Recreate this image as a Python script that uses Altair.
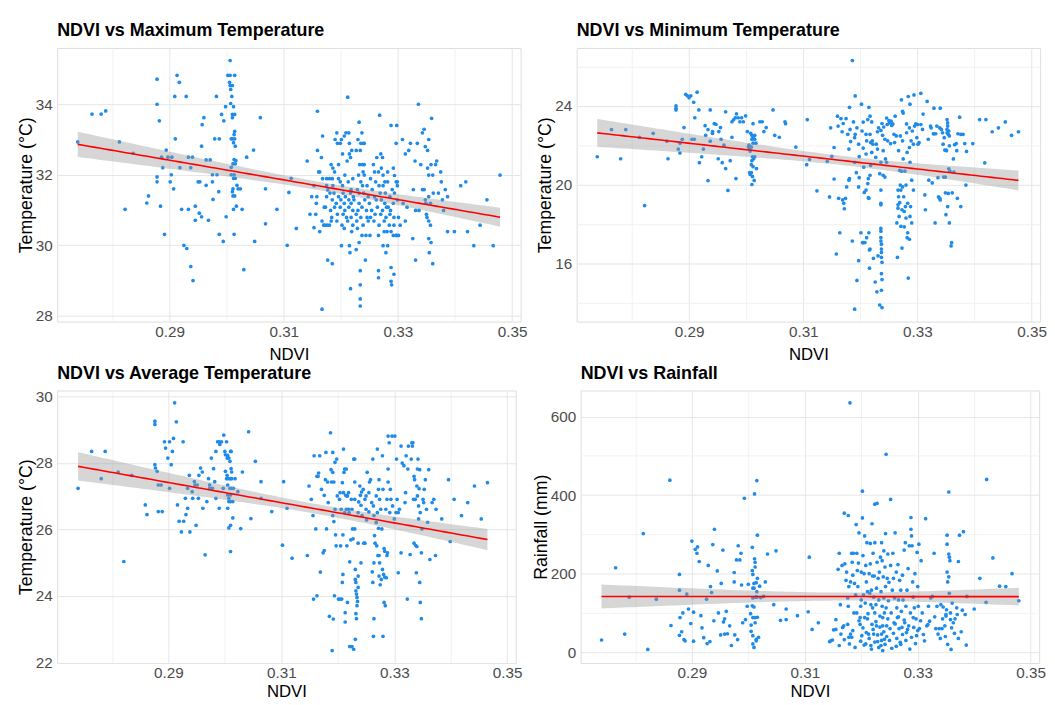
import numpy as np
import pandas as pd
import altair as alt

# ---------------- data ----------------
tmax_pts = [
(0.2739,32.93),(0.2764,33.72),(0.2780,33.72),(0.2788,33.81),(0.2812,32.93),(0.2836,32.61),(0.2878,34.71),(0.2878,34.0),
(0.2882,33.53),(0.2910,33.02),(0.2894,32.7),(0.2886,32.5),(0.2897,32.5),(0.2904,32.5),(0.2888,32.2),(0.2918,32.2),
(0.2878,31.94),(0.2878,31.8),(0.2903,32.0),(0.2901,31.8),(0.2907,31.6),(0.2863,31.4),(0.2860,31.2),(0.2909,34.22),
(0.2913,34.82),(0.2917,34.62),(0.2929,34.22),(0.2933,32.5),(0.2940,32.5),(0.2937,32.2),(0.2956,32.81),(0.2960,33.62),
(0.2957,33.42),(0.2950,31.8),(0.2953,31.8),(0.2964,32.42),(0.2971,32.42),(0.2964,31.7),(0.2975,32.0),(0.2983,32.0),
(0.2975,31.8),(0.2979,33.02),(0.2987,33.02),(0.2982,34.22),(0.2986,31.52),(0.2976,31.3),(0.2991,33.71),(0.2995,33.53),
(0.2998,33.93),(0.3006,35.24),(0.3002,34.82),(0.3006,34.82),(0.3014,34.82),(0.3005,34.62),(0.3006,34.53),(0.3010,34.53),
(0.3007,34.42),(0.3009,34.22),(0.3007,34.02),(0.3012,33.93),(0.3010,33.71),(0.3014,33.71),(0.3010,33.62),(0.3014,33.23),
(0.3013,33.14),(0.3010,33.02),(0.3014,33.02),(0.3008,33.02),(0.3012,32.91),(0.3015,32.81),(0.3013,32.43),(0.3016,32.4),
(0.3011,32.31),(0.3015,32.31),(0.3008,32.21),(0.3008,32.0),(0.3013,32.0),(0.3015,31.9),(0.3012,31.9),(0.3018,31.7),
(0.3020,31.6),(0.3011,31.6),(0.3010,31.52),(0.3014,31.4),(0.3011,31.4),(0.3024,31.6),(0.3035,32.5),(0.3047,32.7),
(0.3059,33.62),(0.3068,31.6),(0.3109,31.5),(0.3113,31.9),
(0.2822,31.02),(0.2884,31.11),(0.2891,30.31),(0.2921,31.02),(0.2933,31.02),(0.2945,31.11),(0.2952,30.91),(0.2956,30.81),
(0.2945,30.71),(0.2968,30.71),(0.2925,30.0),(0.2930,29.91),(0.2937,29.4),(0.2941,29.0),(0.2987,30.31),(0.2994,30.11),
(0.2999,30.81),(0.3012,31.02),(0.3017,31.11),(0.3027,31.02),(0.3013,30.31),(0.3030,29.31),(0.3049,30.11),(0.3068,30.61),
(0.3088,31.02),(0.3106,30.0),
(0.3122,30.48),(0.3141,32.39),(0.3146,30.88),(0.3153,31.69),(0.3156,30.88),(0.3159,33.8),(0.3159,32.69),(0.3161,32.08),
(0.3163,32.08),(0.3166,32.49),(0.3168,33.1),(0.3168,31.89),(0.3149,31.38),(0.3158,31.38),(0.3157,31.19),(0.3153,30.5),
(0.3163,30.39),(0.3167,30.69),(0.3171,31.08),(0.3172,30.57),(0.3176,30.57),(0.3180,30.57),(0.3175,31.38),(0.3177,29.58),
(0.3185,29.48),(0.3167,28.19),(0.3177,31.57),(0.3180,31.89),(0.3181,31.48),(0.3183,32.29),(0.3186,32.19),(0.3189,32.08),
(0.3190,33.0),(0.3193,33.19),(0.3194,32.89),(0.3196,32.29),(0.3199,32.89),(0.3201,33.0),(0.3203,32.59),(0.3206,33.1),
(0.3209,33.19),(0.3212,34.2),(0.3214,33.19),(0.3215,32.89),(0.3215,32.59),(0.3217,32.49),(0.3211,32.39),(0.3219,32.69),
(0.3227,32.69),(0.3232,33.49),(0.3230,33.0),(0.3235,32.89),(0.3237,33.19),(0.3239,32.89),(0.3241,32.89),(0.3234,32.69),
(0.3233,32.29),(0.3238,32.29),(0.3241,32.29),(0.3239,32.08),(0.3241,31.99),(0.3235,31.8),(0.3238,31.69),(0.3229,31.58),
(0.3257,32.29),(0.3259,32.08),(0.3263,32.49),(0.3268,33.69),(0.3270,32.59),(0.3273,32.49),(0.3266,32.08),(0.3271,32.19),
(0.3274,31.99),(0.3277,31.8),(0.3274,31.69),(0.3282,32.08),(0.3282,31.8),(0.3288,33.4),(0.3298,33.4),(0.3292,32.19),
(0.3294,31.98),(0.3297,31.8),(0.3299,31.8),(0.3297,32.89),(0.3308,33.0),(0.3313,32.59),(0.3319,32.69),(0.3322,32.89),
(0.3334,32.89),(0.3336,34.0),(0.3343,33.19),(0.3346,33.29),(0.3354,33.0),(0.3359,33.6),(0.3348,32.8),(0.3352,32.69),
(0.3330,32.39),(0.3340,32.29),(0.3358,32.29),(0.3366,32.29),(0.3368,32.39),(0.3352,32.19),(0.3354,31.99),(0.3361,31.99),
(0.3375,32.08),(0.3376,31.8),(0.3327,31.58),(0.3343,31.58),(0.3346,31.58),(0.3362,31.48),(0.3371,31.48),(0.3383,31.58),
(0.3387,31.38),(0.3378,31.29),(0.3348,31.29),(0.3354,31.38),(0.3349,31.19),(0.3357,31.19),(0.3331,30.99),(0.3337,30.99),
(0.3316,31.08),(0.3309,31.19),(0.3313,30.69),(0.3304,30.57),(0.3301,30.79),(0.3350,30.88),(0.3351,30.79),(0.3354,30.69),
(0.3357,30.57),(0.3380,30.99),(0.3387,30.39),(0.3399,30.39),(0.3422,30.39),(0.3444,30.57),(0.3456,31.29),(0.3479,31.99),
(0.3410,31.69),(0.3419,31.8),(0.3433,29.99),(0.3467,29.99),(0.3354,30.19),(0.3358,30.08),(0.3355,29.79),(0.3361,29.48),
(0.3331,29.58),(0.3326,30.19),(0.3293,29.18),(0.3288,29.37),(0.3288,28.98),(0.3289,28.88),(0.3266,29.28),(0.3266,29.08),
(0.3279,29.79),(0.3234,29.28),(0.3234,28.88),(0.3217,28.77),(0.3234,28.48),(0.3234,28.28),(0.3243,29.58),(0.3201,29.99),
(0.3215,29.99),(0.3216,29.79),(0.3227,29.88),(0.3232,30.08),(0.3274,29.99),(0.3282,29.99),(0.3288,30.39),(0.3297,30.28),
(0.3301,30.28),
(0.3175,31.89),(0.3185,31.89),(0.3196,31.89),(0.3207,31.99),(0.3221,31.89),(0.3231,31.99),(0.3252,31.89),(0.3261,31.8),
(0.3175,31.69),(0.3186,31.69),(0.3199,31.8),(0.3203,31.69),(0.3213,31.8),(0.3218,31.58),(0.3246,31.69),(0.3255,31.58),
(0.3267,31.69),(0.3290,31.58),(0.3299,31.69),
(0.3188,31.48),(0.3196,31.38),(0.3204,31.48),(0.3208,31.38),(0.3217,31.48),(0.3222,31.38),(0.3232,31.48),(0.3240,31.48),
(0.3248,31.38),(0.3259,31.38),(0.3269,31.48),(0.3278,31.48),(0.3286,31.38),(0.3294,31.48),
(0.3185,31.29),(0.3192,31.19),(0.3200,31.29),(0.3206,31.19),(0.3214,31.29),(0.3218,31.19),(0.3223,31.29),(0.3232,31.19),
(0.3242,31.29),(0.3250,31.19),(0.3262,31.29),(0.3271,31.29),(0.3277,31.19),(0.3283,31.08),(0.3292,31.19),(0.3299,31.29),
(0.3173,31.08),(0.3182,30.99),(0.3189,31.08),(0.3199,31.08),(0.3207,30.99),(0.3214,31.08),(0.3221,30.99),(0.3230,30.99),
(0.3237,31.08),(0.3245,30.99),(0.3254,30.99),(0.3264,31.08),(0.3273,30.99),(0.3280,31.08),(0.3287,30.99),
(0.3184,30.79),(0.3194,30.88),(0.3204,30.88),(0.3210,30.79),(0.3218,30.79),(0.3227,30.88),(0.3235,30.79),(0.3246,30.79),
(0.3252,30.79),(0.3260,30.88),(0.3270,30.88),(0.3279,30.79),(0.3286,30.88),(0.3293,30.79),
(0.3170,30.57),(0.3183,30.69),(0.3193,30.69),(0.3202,30.57),(0.3212,30.69),(0.3221,30.57),(0.3228,30.69),(0.3239,30.57),
(0.3248,30.69),(0.3258,30.69),(0.3267,30.57),(0.3276,30.69),(0.3285,30.57),(0.3293,30.57),
(0.3206,30.48),(0.3219,30.39),(0.3229,30.48),(0.3237,30.28),(0.3244,30.28),(0.3251,30.28),(0.3266,30.28),(0.3276,30.39),
(0.3281,30.39),(0.3292,30.28),(0.3298,30.28),
]

tmin_pts = [
(0.2739,21.41),(0.2764,22.79),(0.2780,21.31),(0.2789,22.79),(0.2813,22.4),(0.2822,18.93),(0.2837,22.6),(0.2861,22.2),
(0.2863,21.31),(0.2877,24.0),(0.2877,23.88),(0.2877,23.79),(0.2881,21.8),(0.2884,22.1),(0.2884,21.6),(0.2888,22.3),
(0.2891,22.89),(0.2894,24.58),(0.2897,24.51),(0.2900,24.41),(0.2903,24.51),(0.2908,24.18),(0.2914,24.69),(0.2905,22.3),
(0.2909,22.3),(0.2910,23.39),(0.2917,23.79),(0.2918,21.11),(0.2922,21.41),(0.2925,21.8),(0.2929,22.5),(0.2928,22.99),
(0.2933,22.79),(0.2933,20.2),(0.2937,23.79),(0.2937,22.2),(0.2941,22.69),(0.2941,22.6),(0.2944,23.09),(0.2947,23.06),
(0.2951,21.31),(0.2952,22.69),(0.2955,22.89),(0.2956,22.3),(0.2958,21.11),(0.2961,22.0),(0.2964,23.69),(0.2964,20.81),
(0.2968,19.7),(0.2972,21.21),(0.2975,23.19),(0.2975,22.4),(0.2978,23.29),(0.2981,23.39),(0.2982,20.3),(0.2983,23.59),
(0.2986,23.39),(0.2989,23.19),(0.2992,23.39),(0.2995,23.19),(0.2999,23.49),(0.3002,22.69),(0.3004,21.9),(0.3005,22.0),
(0.3006,21.8),(0.3007,21.7),(0.3008,22.6),(0.3010,22.5),(0.3012,22.4),(0.3015,22.5),(0.3010,22.3),(0.3015,22.3),
(0.3012,22.1),(0.3017,22.1),(0.3009,21.9),(0.3011,21.41),(0.3015,21.41),(0.3010,21.21),(0.3013,21.31),(0.3009,21.01),
(0.3012,20.91),(0.3018,20.81),(0.3006,20.61),(0.3007,20.51),(0.3009,20.61),(0.3011,20.41),(0.3014,20.21),(0.3010,20.0),
(0.3012,23.09),(0.3024,23.19),(0.3028,23.19),(0.3031,22.69),(0.3035,22.89),(0.3047,23.79),(0.3050,22.5),(0.3058,22.4),
(0.3068,23.19),(0.3069,23.09),(0.3087,21.9),(0.3106,21.01),
(0.3107,23.3),(0.3111,21.27),(0.3124,19.68),(0.3142,21.18),(0.3146,19.37),(0.3148,22.88),(0.3150,21.43),(0.3154,20.28),
(0.3154,21.88),(0.3158,16.47),(0.3160,23.47),(0.3161,22.97),(0.3162,19.3),(0.3164,17.55),(0.3166,23.35),(0.3168,22.68),
(0.3169,19.22),(0.3170,23.1),(0.3171,19.05),(0.3172,18.77),(0.3174,19.3),(0.3175,23.35),(0.3176,19.88),(0.3178,22.55),
(0.3180,21.8),(0.3180,20.22),(0.3181,23.92),(0.3181,20.3),(0.3182,22.8),(0.3183,22.18),(0.3186,26.3),(0.3186,17.13),
(0.3188,23.18),(0.3190,21.13),(0.3190,22.38),(0.3191,24.5),(0.3191,22.55),(0.3193,20.6),(0.3194,22.88),(0.3194,15.13),
(0.3190,13.67),(0.3197,19.88),(0.3197,22.05),(0.3197,16.13),(0.3198,21.42),(0.3198,20.35),(0.3201,17.55),(0.3202,24.08),
(0.3203,22.72),(0.3204,17.05),(0.3205,23.17),(0.3205,17.05),(0.3205,21.85),(0.3206,20.88),(0.3207,19.6),(0.3208,17.05),
(0.3210,22.55),(0.3210,19.72),(0.3210,21.55),(0.3211,17.3),(0.3211,22.22),(0.3213,20.05),(0.3213,23.3),(0.3214,20.3),
(0.3214,19.33),(0.3215,23.92),(0.3215,17.55),(0.3215,19.3),(0.3216,15.75),(0.3216,16.68),(0.3217,22.55),(0.3217,16.72),
(0.3217,20.47),(0.3217,23.47),(0.3218,20.97),(0.3218,22.13),(0.3220,23.18),(0.3220,21.63),(0.3221,22.22),(0.3222,22.05),
(0.3223,16.25),(0.3226,15.05),(0.3227,21.38),(0.3228,22.05),(0.3229,14.55),(0.3230,22.68),(0.3230,21.8),(0.3231,16.38),
(0.3232,22.88),(0.3234,20.55),(0.3234,13.88),(0.3236,22.75),(0.3236,21.13),(0.3236,19.05),(0.3236,18.97),(0.3236,17.77),
(0.3236,17.63),(0.3236,17.3),(0.3236,17.13),(0.3237,16.97),(0.3237,16.72),(0.3237,16.55),(0.3237,16.3),(0.3238,16.05),
(0.3237,15.47),(0.3238,15.17),(0.3237,14.63),(0.3238,13.75),(0.3236,19.72),(0.3238,23.1),(0.3239,22.5),(0.3240,21.72),
(0.3240,20.47),(0.3241,22.92),(0.3243,20.38),(0.3243,22.3),(0.3244,21.3),(0.3246,23.38),(0.3246,21.13),(0.3247,23.05),
(0.3248,22.22),(0.3250,23.25),(0.3251,23.13),(0.3253,22.08),(0.3254,23.22),(0.3255,23.0),(0.3257,23.08),(0.3259,22.55),
(0.3260,22.13),(0.3261,23.47),(0.3263,22.47),(0.3264,18.05),(0.3265,16.3),(0.3266,19.72),(0.3266,18.97),(0.3266,18.8),
(0.3267,19.38),(0.3267,21.72),(0.3268,18.38),(0.3269,19.08),(0.3269,20.72),(0.3270,19.97),(0.3270,22.47),(0.3271,19.72),
(0.3271,17.88),(0.3272,20.68),(0.3272,24.3),(0.3273,18.72),(0.3273,16.77),(0.3274,23.72),(0.3274,22.22),(0.3274,19.88),
(0.3275,23.63),(0.3275,21.3),(0.3276,19.38),(0.3277,18.63),(0.3277,17.85),(0.3278,20.68),(0.3279,18.88),(0.3280,19.97),
(0.3280,18.3),(0.3281,23.08),(0.3281,22.63),(0.3282,17.3),(0.3282,21.63),(0.3283,19.05),(0.3283,17.55),(0.3284,24.47),
(0.3284,15.25),(0.3286,21.88),(0.3286,17.22),(0.3286,22.88),(0.3287,21.13),(0.3287,24.08),(0.3287,18.38),(0.3288,18.88),
(0.3289,22.22),(0.3290,20.22),(0.3290,18.05),(0.3291,22.72),(0.3293,19.72),(0.3293,22.05),(0.3294,24.55),(0.3295,22.97),
(0.3297,23.08),(0.3299,22.38),(0.3300,23.05),(0.3301,22.05),(0.3303,22.13),(0.3306,23.05),(0.3306,24.63),(0.3309,22.8),
(0.3310,23.58),(0.3313,19.47),(0.3314,18.72),(0.3317,24.22),(0.3319,22.3),(0.3320,20.22),(0.3323,22.97),(0.3324,22.88),
(0.3326,20.08),(0.3328,22.58),(0.3329,23.88),(0.3329,22.58),(0.3331,18.05),(0.3332,22.58),(0.3334,22.97),(0.3336,20.35),
(0.3337,19.38),(0.3339,22.88),(0.3339,19.3),(0.3340,23.88),(0.3340,19.22),(0.3342,22.8),(0.3344,22.63),(0.3345,22.05),
(0.3346,20.38),(0.3347,22.38),(0.3348,21.75),(0.3349,19.58),(0.3349,20.38),(0.3350,18.47),(0.3350,21.75),(0.3351,21.72),
(0.3352,22.8),(0.3352,22.63),(0.3352,23.3),(0.3353,23.13),(0.3353,22.97),(0.3353,18.88),(0.3354,22.55),(0.3354,19.55),
(0.3355,20.8),(0.3355,22.72),(0.3356,18.05),(0.3356,22.47),(0.3356,21.97),(0.3357,20.68),(0.3359,16.88),(0.3360,17.05),
(0.3361,19.58),(0.3363,21.3),(0.3364,20.63),(0.3365,22.02),(0.3368,22.08),(0.3369,21.72),(0.3370,19.3),(0.3371,22.58),
(0.3374,23.42),(0.3376,18.88),(0.3376,22.55),(0.3380,22.55),(0.3383,22.08),(0.3385,19.97),(0.3386,21.68),(0.3397,22.08),
(0.3409,23.3),(0.3418,21.1),(0.3420,23.3),(0.3431,22.68),(0.3442,22.88),(0.3454,23.18),(0.3465,22.5),(0.3477,22.68),
]

tavg_pts = [
(0.2740,27.24),(0.2764,28.35),(0.2781,27.53),(0.2788,28.35),(0.2811,27.73),(0.2821,25.04),(0.2835,27.63),(0.2859,26.74),
(0.2862,26.45),(0.2876,29.26),(0.2876,29.16),(0.2876,27.95),(0.2877,27.85),(0.2880,27.75),(0.2882,27.34),(0.2887,27.34),
(0.2882,26.54),(0.2889,26.54),(0.2893,28.64),(0.2895,28.45),(0.2899,28.15),(0.2902,28.64),(0.2902,27.24),(0.2905,27.95),
(0.2907,28.35),(0.2909,28.74),(0.2911,29.81),(0.2914,29.24),(0.2916,26.74),(0.2919,26.25),(0.2923,25.93),(0.2926,28.64),
(0.2927,26.25),(0.2930,26.94),(0.2931,26.45),(0.2934,26.64),(0.2934,27.24),(0.2937,27.63),(0.2938,25.93),(0.2942,27.14),
(0.2943,26.94),(0.2946,27.44),(0.2947,27.34),(0.2949,26.13),(0.2951,27.34),(0.2953,26.94),(0.2954,27.63),(0.2957,27.85),
(0.2960,27.73),(0.2961,26.64),(0.2965,25.24),(0.2968,26.84),(0.2971,27.53),(0.2973,27.24),(0.2973,27.34),(0.2976,28.15),
(0.2978,27.24),(0.2980,27.83),(0.2982,27.44),(0.2984,26.94),(0.2984,28.35),(0.2987,28.64),(0.2990,28.64),(0.2991,28.56),
(0.2990,26.64),(0.2994,28.64),(0.2997,27.24),(0.2998,28.84),(0.3000,28.35),(0.3003,28.64),(0.3001,28.25),(0.3004,28.15),
(0.3001,27.75),(0.3003,27.53),(0.3005,28.23),(0.3007,28.15),(0.3010,28.35),(0.3009,28.05),(0.3011,28.35),(0.3004,27.63),
(0.3007,27.53),(0.3010,27.53),(0.3012,27.53),(0.3011,27.83),(0.3012,27.73),(0.3005,27.34),(0.3009,27.24),(0.3012,27.24),
(0.3015,27.24),(0.3005,27.04),(0.3007,26.94),(0.3010,27.04),(0.3007,26.84),(0.3010,26.84),(0.3014,26.84),(0.3005,26.64),
(0.3014,26.35),(0.3010,26.13),(0.3007,26.05),(0.3010,25.34),(0.3018,27.53),(0.3023,27.14),(0.3028,26.03),(0.3031,27.73),
(0.3042,28.94),(0.3046,26.33),(0.3054,28.05),(0.3064,27.44),(0.3064,26.94),(0.3083,26.54),(0.3102,25.53),(0.3104,27.44),
(0.3110,26.64),(0.3119,25.14),
(0.3146,25.22),(0.3153,26.91),(0.3157,23.91),(0.3163,24.01),(0.3158,28.22),(0.3168,28.22),(0.3169,24.72),(0.3149,27.31),
(0.3156,26.42),(0.3161,26.02),(0.3163,27.6),(0.3165,27.6),(0.3166,27.7),(0.3171,27.21),(0.3174,25.3),(0.3176,25.37),
(0.3176,27.03),(0.3178,27.5),(0.3179,28.32),(0.3180,26.02),(0.3182,27.43),(0.3183,26.81),(0.3185,23.39),(0.3187,28.91),
(0.3188,27.8),(0.3189,27.43),(0.3191,28.32),(0.3191,27.72),(0.3191,26.42),(0.3192,23.31),(0.3193,27.43),(0.3193,26.24),
(0.3194,24.01),(0.3195,26.61),(0.3195,28.02),(0.3196,25.84),(0.3197,25.51),(0.3198,28.12),(0.3199,27.01),(0.3201,23.91),
(0.3203,26.91),(0.3204,27.11),(0.3204,23.91),(0.3205,25.51),(0.3206,26.61),(0.3207,23.91),(0.3208,27.41),(0.3208,24.41),
(0.3209,24.65),(0.3209,25.84),(0.3210,28.42),(0.3210,27.11),(0.3211,27.72),(0.3212,27.82),(0.3212,26.51),(0.3213,23.5),
(0.3213,23.22),(0.3214,27.03),(0.3215,27.82),(0.3215,26.61),(0.3216,25.51),(0.3216,27.01),(0.3217,27.01),(0.3217,23.81),
(0.3219,27.11),(0.3219,26.61),(0.3220,26.51),(0.3221,22.48),(0.3221,25.03),(0.3223,25.69),(0.3224,26.91),(0.3225,26.61),
(0.3225,22.48),(0.3226,26.02),(0.3227,25.72),(0.3228,28.12),(0.3228,22.4),(0.3230,28.12),(0.3230,27.43),(0.3230,26.91),
(0.3230,26.02),(0.3231,24.8),(0.3231,24.5),(0.3232,24.41),(0.3232,24.16),(0.3233,24.06),(0.3234,23.96),(0.3234,23.71),
(0.3232,23.47),(0.3233,23.32),(0.3231,22.7),(0.3235,23.84),(0.3236,24.26),(0.3236,24.6),(0.3236,25.59),(0.3236,26.51),
(0.3237,26.83),(0.3239,27.31),(0.3240,27.03),(0.3241,26.73),(0.3241,25.0),(0.3242,27.13),(0.3243,26.42),(0.3245,27.21),
(0.3246,25.59),(0.3248,26.91),(0.3248,25.59),(0.3250,27.01),(0.3250,26.61),(0.3251,26.29),(0.3252,27.72),(0.3255,26.53),
(0.3255,27.11),(0.3256,27.43),(0.3258,27.5),(0.3260,26.81),(0.3261,24.73),(0.3262,28.12),(0.3262,24.41),(0.3263,26.71),
(0.3264,23.32),(0.3263,22.79),(0.3264,25.0),(0.3264,26.42),(0.3265,25.82),(0.3266,25.59),(0.3268,27.01),(0.3268,26.21),
(0.3269,25.51),(0.3270,26.51),(0.3270,28.42),(0.3271,25.22),(0.3272,27.21),(0.3272,26.04),(0.3273,27.5),(0.3273,25.22),
(0.3273,24.6),(0.3274,25.0),(0.3274,26.91),(0.3275,24.34),(0.3276,26.61),(0.3277,24.5),(0.3278,26.02),(0.3279,24.8),
(0.3279,28.22),(0.3280,27.21),(0.3280,22.79),(0.3281,24.65),(0.3282,23.81),(0.3282,25.43),(0.3283,24.57),(0.3283,25.35),
(0.3284,23.71),(0.3285,26.61),(0.3286,24.55),(0.3287,26.91),(0.3287,25.22),(0.3288,25.3),(0.3289,27.82),(0.3289,27.43),
(0.3289,28.81),(0.3291,28.61),(0.3292,26.51),(0.3293,27.21),(0.3294,26.91),(0.3296,28.81),(0.3297,26.71),(0.3300,26.32),
(0.3301,28.81),(0.3303,26.51),(0.3304,28.12),(0.3305,26.91),(0.3307,26.51),(0.3307,24.7),(0.3309,26.61),(0.3312,28.51),
(0.3312,25.3),(0.3314,28.0),(0.3317,27.92),(0.3319,26.81),(0.3320,27.11),(0.3321,28.22),(0.3323,23.91),(0.3324,27.82),
(0.3325,28.51),(0.3328,25.25),(0.3330,28.12),(0.3331,28.61),(0.3332,28.51),(0.3333,28.61),(0.3334,26.91),(0.3335,27.6),
(0.3335,25.59),(0.3336,27.5),(0.3337,26.91),(0.3338,25.52),(0.3339,24.7),(0.3340,27.31),(0.3340,25.49),(0.3341,27.01),
(0.3341,27.82),(0.3342,28.12),(0.3343,26.71),(0.3343,26.32),(0.3344,27.23),(0.3345,27.8),(0.3345,24.41),(0.3346,23.81),
(0.3346,26.51),(0.3348,23.32),(0.3348,25.3),(0.3349,26.02),(0.3351,26.91),(0.3352,26.81),(0.3353,27.21),(0.3355,27.5),
(0.3357,26.61),(0.3359,26.22),(0.3361,27.8),(0.3363,25.1),(0.3367,26.81),(0.3370,26.91),(0.3373,25.22),(0.3374,26.61),
(0.3384,26.32),(0.3396,27.5),(0.3406,26.91),(0.3419,26.42),(0.3430,26.81),(0.3442,27.31),(0.3454,26.32),(0.3465,27.41),
(0.3399,25.64),(0.3190,22.36),
]

rain_pts = [
(0.2740,31),(0.2765,215),(0.2781,46),(0.2789,140),(0.2814,302),(0.2822,7),(0.2837,135),(0.2861,438),(0.2863,68),
(0.2878,198),(0.2878,158),(0.2879,88),(0.2878,43),(0.2882,52),(0.2884,100),(0.2886,32),(0.2888,29),(0.2891,148),
(0.2894,110),(0.2898,73),(0.2900,283),(0.2903,102),(0.2903,28),(0.2906,262),(0.2909,252),(0.2910,268),(0.2913,231),
(0.2916,93),(0.2918,62),(0.2921,37),(0.2926,135),(0.2927,22),(0.2929,221),(0.2932,27),(0.2933,167),(0.2935,152),
(0.2937,274),(0.2939,80),(0.2940,313),(0.2945,207),(0.2947,100),(0.2951,44),(0.2952,175),(0.2955,260),(0.2956,77),
(0.2958,85),(0.2958,46),(0.2961,104),(0.2963,47),(0.2967,67),(0.2970,17),(0.2975,179),(0.2975,203),(0.2976,44),
(0.2979,235),(0.2981,32),(0.2982,271),(0.2985,235),(0.2987,252),(0.2988,171),(0.2990,75),(0.2993,392),(0.2995,83),
(0.2998,117),(0.3000,173),(0.3004,98),(0.3005,69),(0.3005,53),(0.3007,118),(0.3007,208),(0.3007,267),(0.3008,138),
(0.3008,198),(0.3008,163),(0.3008,88),(0.3008,42),(0.3008,21),(0.3010,12),(0.3010,163),(0.3010,175),(0.3010,115),
(0.3011,403),(0.3011,238),(0.3012,217),(0.3012,229),(0.3012,88),(0.3012,75),(0.3013,140),(0.3014,33),(0.3014,177),
(0.3014,29),(0.3015,437),(0.3015,154),(0.3015,140),(0.3016,298),(0.3016,188),(0.3016,89),(0.3018,38),(0.3020,168),
(0.3022,139),(0.3027,142),(0.3030,179),(0.3034,250),(0.3045,121),(0.3049,258),(0.3057,81),(0.3067,110),(0.3067,83),
(0.3087,93),(0.3106,103),(0.3108,242),(0.3113,58),(0.3124,75),(0.3144,27),(0.3146,29),(0.3149,31),(0.3151,57),
(0.3155,83),(0.3155,58),(0.3159,211),(0.3161,252),(0.3161,17),(0.3163,121),(0.3164,46),(0.3166,221),(0.3167,63),
(0.3169,67),(0.3170,354),(0.3170,32),(0.3171,225),(0.3173,183),(0.3174,204),(0.3176,71),(0.3176,138),(0.3177,348),
(0.3177,117),(0.3178,167),(0.3179,21),(0.3180,635),(0.3181,46),(0.3181,179),(0.3183,252),(0.3183,38),(0.3184,229),
(0.3185,196),(0.3186,252),(0.3187,100),(0.3188,175),(0.3190,146),(0.3191,325),(0.3192,252),(0.3192,100),(0.3193,208),
(0.3194,167),(0.3195,227),(0.3196,304),(0.3198,71),(0.3198,88),(0.3199,117),(0.3200,133),(0.3200,204),(0.3201,42),
(0.3202,342),(0.3202,410),(0.3203,246),(0.3204,146),(0.3205,200),(0.3206,296),(0.3206,88),(0.3207,125),(0.3208,21),
(0.3208,221),(0.3209,179),(0.3210,279),(0.3211,154),(0.3212,98),(0.3213,46),(0.3214,200),(0.3215,150),(0.3216,277),
(0.3216,225),(0.3217,121),(0.3217,17),(0.3218,158),(0.3219,71),(0.3219,327),(0.3220,194),(0.3220,113),(0.3221,252),
(0.3222,140),(0.3222,46),(0.3223,194),(0.3224,100),(0.3224,377),(0.3224,279),(0.3226,121),(0.3227,163),(0.3227,67),
(0.3228,379),(0.3228,229),(0.3229,27),(0.3230,188),(0.3231,133),(0.3232,204),(0.3233,92),(0.3234,242),(0.3235,154),
(0.3235,17),(0.3236,279),(0.3236,46),(0.3237,117),(0.3237,233),(0.3238,67),(0.3238,4),(0.3239,192),(0.3240,258),
(0.3240,138),(0.3241,100),(0.3241,33),(0.3242,217),(0.3243,167),(0.3243,302),(0.3244,504),(0.3244,113),(0.3245,67),
(0.3246,188),(0.3247,250),(0.3248,131),(0.3249,178),(0.3251,60),(0.3252,389),(0.3252,221),(0.3253,100),(0.3255,158),
(0.3256,252),(0.3257,188),(0.3258,75),(0.3259,138),(0.3260,304),(0.3262,15),(0.3262,204),(0.3263,113),(0.3264,88),
(0.3265,223),(0.3266,133),(0.3267,60),(0.3268,183),(0.3269,25),(0.3270,158),(0.3271,104),(0.3272,63),(0.3273,196),
(0.3274,133),(0.3276,260),(0.3277,75),(0.3278,279),(0.3279,117),(0.3280,50),(0.3281,158),(0.3283,213),(0.3284,67),
(0.3285,271),(0.3286,8),(0.3287,100),(0.3288,343),(0.3288,313),(0.3289,296),(0.3290,271),(0.3291,179),(0.3292,140),
(0.3293,63),(0.3294,113),(0.3295,200),(0.3297,85),(0.3298,42),(0.3299,254),(0.3300,167),(0.3301,117),(0.3302,275),
(0.3303,60),(0.3306,233),(0.3308,100),(0.3312,29),(0.3314,340),(0.3316,67),(0.3319,117),(0.3321,79),(0.3323,138),
(0.3326,142),(0.3329,252),(0.3332,60),(0.3334,117),(0.3336,46),(0.3338,60),(0.3340,35),(0.3341,121),(0.3343,60),
(0.3345,115),(0.3348,67),(0.3350,92),(0.3350,96),(0.3351,108),(0.3352,298),(0.3352,275),(0.3352,204),(0.3353,179),
(0.3355,192),(0.3355,408),(0.3355,250),(0.3356,242),(0.3356,150),(0.3357,233),(0.3358,100),(0.3358,83),(0.3359,7),
(0.3361,125),(0.3363,75),(0.3365,48),(0.3369,113),(0.3370,96),(0.3372,231),(0.3374,298),(0.3377,52),(0.3379,107),
(0.3381,307),(0.3384,96),(0.3386,18),(0.3387,142),(0.3400,110),(0.3410,188),(0.3421,127),(0.3422,440),(0.3433,240),
(0.3445,168),(0.3456,167),(0.3467,200),(0.3479,131),
(0.3178,38),(0.3185,55),(0.3189,12),(0.3196,80),(0.3199,28),(0.3203,62),(0.3205,18),(0.3209,50),(0.3211,85),(0.3214,35),
(0.3218,8),(0.3221,58),(0.3224,26),(0.3226,78),(0.3229,44),(0.3231,12),(0.3233,64),(0.3236,30),(0.3238,88),(0.3240,52),
(0.3242,20),(0.3245,40),(0.3247,85),(0.3250,30),(0.3254,10),(0.3257,48),(0.3260,72),(0.3263,35),(0.3266,90),(0.3270,20),
(0.3273,45),(0.3276,82),(0.3279,30),(0.3282,58),(0.3289,38),(0.3292,88),(0.3296,22),(0.3300,55),(0.3305,80),(0.3310,45),
(0.3318,70),(0.3330,90),(0.3344,85),(0.3349,40),(0.3353,20),(0.3360,62),(0.3366,85),(0.3372,35),
]

x_grid_values = [0.28, 0.29, 0.30, 0.31, 0.32, 0.33, 0.34, 0.35]
x_domain = [0.2703, 0.3515]

FONT = "Liberation Sans"
POINT_COLOR = "#1f8be9"


def make_panel(pts, title, ytitle, yvals, ymajor_test, width, height, title_offset, xtitle_pad):
    df = pd.DataFrame(pts, columns=["ndvi", "val"])
    x = df["ndvi"].to_numpy(float)
    y = df["val"].to_numpy(float)
    n = len(x)
    slope, intercept = np.polyfit(x, y, 1)
    xbar = x.mean()
    sxx = ((x - xbar) ** 2).sum()
    resid = y - (intercept + slope * x)
    s = np.sqrt((resid ** 2).sum() / (n - 2))
    xs = np.linspace(x.min(), x.max(), 80)
    fit = intercept + slope * xs
    se = s * np.sqrt(1.0 / n + (xs - xbar) ** 2 / sxx)
    fdf = pd.DataFrame({"ndvi": xs, "fit": fit, "lo": fit - 1.966 * se, "hi": fit + 1.966 * se})

    lo = min(y.min(), fdf["lo"].min())
    hi = max(y.max(), fdf["hi"].max())
    r = hi - lo
    ydom = [lo - 0.05 * r, hi + 0.05 * r]
    yvals = [v for v in yvals if ydom[0] <= v <= ydom[1]]

    xscale = alt.Scale(domain=x_domain, nice=False, zero=False)
    yscale = alt.Scale(domain=ydom, nice=False, zero=False)

    xmaj = "round(datum.value*100) % 2 == 1"
    xaxis = alt.Axis(
        values=x_grid_values,
        labelExpr=f"{xmaj} ? format(datum.value, '.2f') : ''",
        gridColor={"condition": {"test": xmaj, "value": "#e6e6e6"}, "value": "#f2f2f2"},
        ticks=False, domain=False, labelFlush=False, labelOverlap=False,
        labelFontSize=15.5, labelColor="#4d4d4d", labelPadding=3, labelFont=FONT,
        title="NDVI", titleFontSize=17, titleFontWeight="normal", titleColor="black",
        titlePadding=xtitle_pad, titleFont=FONT,
    )
    yaxis = alt.Axis(
        values=yvals,
        labelExpr=f"{ymajor_test} ? format(datum.value, 'd') : ''",
        gridColor={"condition": {"test": ymajor_test, "value": "#e6e6e6"}, "value": "#f2f2f2"},
        ticks=False, domain=False, labelFlush=False, labelOverlap=False,
        labelFontSize=15.5, labelColor="#4d4d4d", labelPadding=5, labelFont=FONT,
        title=ytitle, titleFontSize=18, titleFontWeight="normal", titleColor="black",
        titlePadding=0, titleFont=FONT,
    )

    points = alt.Chart(df).mark_circle(size=14, color=POINT_COLOR, opacity=1).encode(
        x=alt.X("ndvi:Q", scale=xscale, axis=xaxis),
        y=alt.Y("val:Q", scale=yscale, axis=yaxis),
    )
    band = alt.Chart(fdf).mark_area(color="#999999", opacity=0.4).encode(
        x=alt.X("ndvi:Q", scale=xscale),
        y=alt.Y("lo:Q", scale=yscale),
        y2="hi:Q",
    )
    line = alt.Chart(fdf).mark_line(color="#ff0000", strokeWidth=1.6).encode(
        x=alt.X("ndvi:Q", scale=xscale),
        y=alt.Y("fit:Q", scale=yscale),
    )
    return alt.layer(points, band, line).properties(
        width=width, height=height,
        title=alt.TitleParams(text=title, anchor="start", frame="group", fontSize=18.2,
                              fontWeight="bold", font=FONT, color="black", offset=title_offset),
    )


tl = make_panel(tmax_pts, "NDVI vs Maximum Temperature", "Temperature (°C)",
                [28, 29, 30, 31, 32, 33, 34, 35], "datum.value % 2 == 0", 471, 278, 8, 7)
tr = make_panel(tmin_pts, "NDVI vs Minimum Temperature", "Temperature (°C)",
                [14, 16, 18, 20, 22, 24, 26], "datum.value % 4 == 0", 471, 278, 8, 7)
bl = make_panel(tavg_pts, "NDVI vs Average Temperature", "Temperature (°C)",
                [22, 23, 24, 25, 26, 27, 28, 29, 30], "datum.value % 2 == 0", 466, 277, 7, 3)
br = make_panel(rain_pts, "NDVI vs Rainfall", "Rainfall (mm)",
                [0, 100, 200, 300, 400, 500, 600], "datum.value % 200 == 0", 466, 277, 7, 3)

chart = alt.vconcat(
    alt.hconcat(tl, tr, spacing=9),
    alt.hconcat(bl, br, spacing=9),
    spacing=0,
).configure_view(stroke="#9a9a9a", strokeWidth=1).configure(
    font=FONT, background="white"
).properties(padding={"left": 9, "top": 7, "right": 0, "bottom": 0})

chart.save("out.html", embed_options={"renderer": "svg", "actions": False})
